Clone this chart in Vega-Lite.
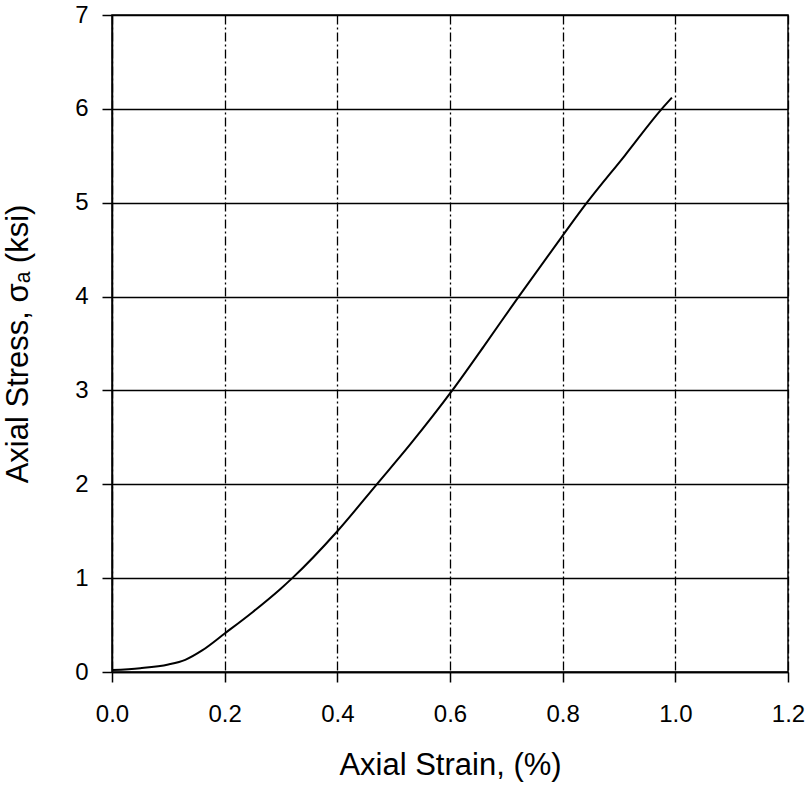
{
  "$schema": "https://vega.github.io/schema/vega-lite/v6.json",
  "width": 676,
  "height": 657,
  "autosize": "none",
  "padding": {"left": 112, "top": 15, "right": 22, "bottom": 117},
  "background": "white",
  "config": {
    "font": "Liberation Sans",
    "view": {"stroke": "black", "strokeWidth": 1.5},
    "axis": {
      "domainColor": "black",
      "domainWidth": 1.5,
      "tickColor": "black",
      "tickWidth": 1.5,
      "tickSize": 10,
      "gridColor": "black",
      "gridWidth": 1.3,
      "gridOpacity": 1,
      "labelColor": "black",
      "labelFontSize": 24,
      "labelFont": "Liberation Sans",
      "titleColor": "black",
      "titleFont": "Liberation Sans",
      "titleFontSize": 31,
      "titleFontWeight": "normal"
    }
  },
  "data": {
    "values": [
      {"strain": 0.0, "stress": 0.02},
      {"strain": 0.05, "stress": 0.04},
      {"strain": 0.10, "stress": 0.08},
      {"strain": 0.13, "stress": 0.13},
      {"strain": 0.16, "stress": 0.23},
      {"strain": 0.20, "stress": 0.41},
      {"strain": 0.25, "stress": 0.64},
      {"strain": 0.30, "stress": 0.89},
      {"strain": 0.32, "stress": 1.0},
      {"strain": 0.40, "stress": 1.5},
      {"strain": 0.47, "stress": 2.0},
      {"strain": 0.53, "stress": 2.43},
      {"strain": 0.604, "stress": 3.0},
      {"strain": 0.66, "stress": 3.47},
      {"strain": 0.722, "stress": 4.0},
      {"strain": 0.80, "stress": 4.65},
      {"strain": 0.843, "stress": 5.0},
      {"strain": 0.91, "stress": 5.5},
      {"strain": 0.976, "stress": 6.0},
      {"strain": 0.994, "stress": 6.12}
    ]
  },
  "mark": {"type": "line", "color": "black", "strokeWidth": 2, "interpolate": "monotone"},
  "encoding": {
    "x": {
      "field": "strain",
      "type": "quantitative",
      "scale": {"domain": [0, 1.2], "nice": false, "zero": false},
      "axis": {
        "title": "Axial Strain, (%)",
        "values": [0, 0.2, 0.4, 0.6, 0.8, 1.0, 1.2],
        "format": ".1f",
        "labelPadding": 20,
        "titlePadding": 24,
        "gridDash": [9, 3, 2, 3],
        "labelFlush": false
      }
    },
    "y": {
      "field": "stress",
      "type": "quantitative",
      "scale": {"domain": [0, 7], "nice": false},
      "axis": {
        "title": "Axial Stress, σₐ (ksi)",
        "values": [0, 1, 2, 3, 4, 5, 6, 7],
        "format": "d",
        "labelPadding": 14,
        "titlePadding": 40,
        "labelFlush": false
      }
    }
  }
}
